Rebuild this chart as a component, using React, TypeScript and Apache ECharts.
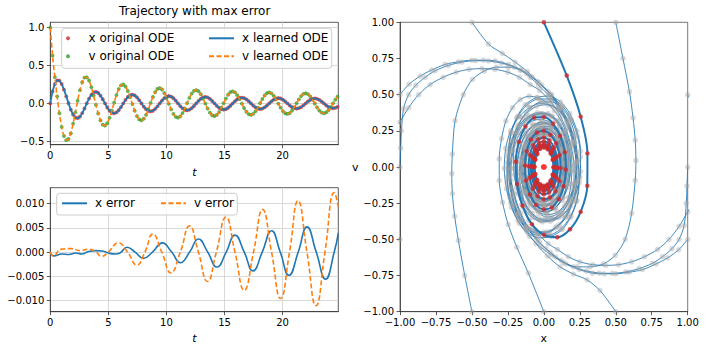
import React, { useEffect, useRef } from 'react';
import * as echarts from 'echarts';

// ---------- time series of the max-error trajectory (sampled) ----------
const tSamples = [
  0, 0.196, 0.393, 0.589, 0.785, 0.982, 1.178, 1.374, 1.571, 1.767, 1.963, 2.16, 2.356, 2.553, 2.749, 2.945,
  3.142, 3.338, 3.534, 3.731, 3.927, 4.123, 4.32, 4.516, 4.712, 4.909, 5.105, 5.301, 5.498, 5.694, 5.89, 6.087,
  6.283, 6.48, 6.676, 6.872, 7.069, 7.265, 7.461, 7.658, 7.854, 8.05, 8.247, 8.443, 8.639, 8.836, 9.032, 9.228,
  9.425, 9.621, 9.817, 10.014, 10.21, 10.407, 10.603, 10.799, 10.996, 11.192, 11.388, 11.585, 11.781, 11.977, 12.174, 12.37,
  12.566, 12.763, 12.959, 13.155, 13.352, 13.548, 13.744, 13.941, 14.137, 14.334, 14.53, 14.726, 14.923, 15.119, 15.315, 15.512,
  15.708, 15.904, 16.101, 16.297, 16.493, 16.69, 16.886, 17.082, 17.279, 17.475, 17.671, 17.868, 18.064, 18.261, 18.457, 18.653,
  18.85, 19.046, 19.242, 19.439, 19.635, 19.831, 20.028, 20.224, 20.42, 20.617, 20.813, 21.009, 21.206, 21.402, 21.598, 21.795,
  21.991, 22.188, 22.384, 22.58, 22.777, 22.973, 23.169, 23.366, 23.562, 23.758, 23.955, 24.151, 24.347, 24.544, 24.74,
];
const xOriginal = [
  0, 0.159, 0.256, 0.303, 0.302, 0.256, 0.182, 0.094, 0.002, -0.083, -0.148, -0.186, -0.195, -0.173, -0.128, -0.067,
  0.001, 0.064, 0.114, 0.146, 0.153, 0.138, 0.103, 0.055, 0, -0.054, -0.097, -0.124, -0.131, -0.119, -0.09, -0.048,
  0, 0.046, 0.085, 0.109, 0.116, 0.106, 0.08, 0.043, 0, -0.042, -0.076, -0.099, -0.106, -0.097, -0.073, -0.039,
  0, 0.038, 0.07, 0.091, 0.098, 0.089, 0.068, 0.036, 0, -0.036, -0.065, -0.085, -0.091, -0.083, -0.063, -0.034,
  0, 0.034, 0.061, 0.08, 0.086, 0.079, 0.06, 0.032, 0, -0.032, -0.058, -0.076, -0.081, -0.075, -0.057, -0.031,
  0, 0.03, 0.055, 0.072, 0.077, 0.071, 0.054, 0.029, 0, -0.029, -0.053, -0.069, -0.074, -0.068, -0.052, -0.028,
  0, 0.028, 0.051, 0.066, 0.071, 0.065, 0.05, 0.027, 0, -0.027, -0.049, -0.063, -0.068, -0.063, -0.048, -0.026,
  0, 0.026, 0.047, 0.061, 0.066, 0.061, 0.046, 0.025, 0, -0.025, -0.046, -0.059, -0.064, -0.059, -0.045,
];
const vOriginal = [
  1.0, 0.632, 0.348, 0.094, -0.13, -0.31, -0.43, -0.485, -0.47, -0.395, -0.268, -0.118, 0.036, 0.175, 0.28, 0.34,
  0.345, 0.3, 0.214, 0.103, -0.018, -0.133, -0.223, -0.28, -0.293, -0.262, -0.19, -0.094, 0.011, 0.11, 0.19, 0.238,
  0.25, 0.223, 0.164, 0.083, -0.008, -0.096, -0.167, -0.211, -0.223, -0.201, -0.15, -0.076, 0.006, 0.085, 0.15, 0.191,
  0.203, 0.184, 0.137, 0.071, -0.005, -0.078, -0.139, -0.177, -0.188, -0.171, -0.128, -0.067, 0.004, 0.073, 0.129, 0.166,
  0.176, 0.161, 0.121, 0.063, -0.003, -0.068, -0.122, -0.156, -0.167, -0.152, -0.114, -0.06, 0.003, 0.064, 0.115, 0.148,
  0.158, 0.145, 0.109, 0.057, -0.002, -0.061, -0.11, -0.141, -0.151, -0.138, -0.104, -0.055, 0.002, 0.058, 0.105, 0.135,
  0.145, 0.132, 0.1, 0.053, -0.002, -0.056, -0.101, -0.13, -0.139, -0.127, -0.096, -0.051, 0.002, 0.054, 0.097, 0.125,
  0.134, 0.123, 0.093, 0.049, -0.001, -0.052, -0.094, -0.121, -0.13, -0.119, -0.09, -0.048, 0.001, 0.05, 0.09,
];

// ---------- errors (learned - original) ----------
const xErrTimes = [0, 0.3, 1.0, 1.6, 2.2, 2.7, 3.3, 3.9, 4.5, 5.0, 5.6, 6.0, 6.6, 7.3, 8.0, 8.8, 9.65, 10.45, 11.2, 12.0, 12.75, 13.55, 14.35, 15.15, 15.9, 16.7, 17.45, 18.25, 19.05, 19.8, 20.55, 21.35, 22.1, 22.9, 23.7, 24.45, 24.8];
const xErrValues = [-0.0002, -0.0008, -0.0004, -0.0005, -0.0002, -0.0004, 0.0001, 0.0003, 0.0002, -0.0002, -0.0004, -0.0002, 0.001, 0.0, -0.0013, 0.0, 0.0019, 0.0, -0.0022, 0.0, 0.0027, 0.0, -0.0031, 0.0, 0.0035, 0.0, -0.0039, 0.0, 0.0044, 0.0, -0.0048, 0.0, 0.0052, 0.0, -0.0056, 0.0, 0.0039];
const vErrTimes = [0, 0.25, 0.95, 1.8, 2.6, 3.3, 3.9, 4.4, 5.0, 5.86, 6.65, 7.45, 8.15, 8.83, 9.6, 10.38, 11.2, 11.98, 12.75, 13.53, 14.3, 15.12, 15.9, 16.7, 17.5, 18.28, 19.05, 19.83, 20.6, 21.33, 22.1, 22.88, 23.65, 24.46, 24.8];
const vErrValues = [0.0, -0.0008, 0.0006, 0.0007, 0.0003, 0.0006, 0.0001, -0.0009, 0.0, 0.0019, 0.0, -0.0027, 0.0, 0.0037, 0.0, -0.0043, 0.0, 0.0054, 0.0, -0.0061, 0.0, 0.0072, 0.0, -0.0079, 0.0, 0.0088, 0.0, -0.0096, 0.0, 0.0106, 0.0, -0.0111, 0.0, 0.0123, 0.0094];

// ---------- phase portrait: other trajectories [x, v] ----------
const trajFromTopLeft = [[-0.5,1.0],[-0.385,0.85],[-0.288,0.785],[-0.2,0.725],[-0.115,0.66],[-0.035,0.585],[0.045,0.5],[0.115,0.4],[0.17,0.29],[0.21,0.17],[0.23,0.04],[0.23,-0.09],[0.21,-0.21],[0.17,-0.32],[0.11,-0.4],[0.04,-0.45],[-0.04,-0.46],[-0.11,-0.43],[-0.17,-0.36],[-0.21,-0.26],[-0.23,-0.14],[-0.235,-0.01],[-0.22,0.11],[-0.19,0.22],[-0.14,0.3],[-0.08,0.35],[-0.01,0.37],[0.06,0.35],[0.11,0.29],[0.15,0.2],[0.17,0.1],[0.175,-0.01],[0.16,-0.12],[0.13,-0.21],[0.08,-0.28],[0.02,-0.31],[-0.04,-0.3],[-0.09,-0.25],[-0.13,-0.17],[-0.15,-0.07],[-0.15,0.03],[-0.13,0.14],[-0.085,0.22],[-0.02,0.27],[0.045,0.265],[0.1,0.21],[0.135,0.13],[0.145,0.03],[0.135,-0.07],[0.1,-0.16],[0.05,-0.22],[-0.01,-0.245],[-0.07,-0.22],[-0.11,-0.16],[-0.13,-0.07],[-0.128,0.03],[-0.105,0.12],[-0.06,0.19],[0.0,0.215]];
const trajFromTopRight = [[0.5,1.0],[0.55,0.75],[0.595,0.52],[0.62,0.34],[0.635,0.185],[0.64,0.045],[0.635,-0.092],[0.61,-0.32],[0.565,-0.5],[0.496,-0.61],[0.414,-0.67],[0.32,-0.69],[0.23,-0.69],[0.136,-0.66],[0.056,-0.61],[-0.02,-0.555],[-0.1,-0.48],[-0.17,-0.39],[-0.225,-0.28],[-0.26,-0.15],[-0.275,-0.01],[-0.265,0.13],[-0.23,0.25],[-0.17,0.35],[-0.1,0.41],[-0.02,0.44],[0.06,0.42],[0.13,0.36],[0.18,0.27],[0.21,0.15],[0.225,0.02],[0.215,-0.11],[0.18,-0.22],[0.13,-0.31],[0.06,-0.36],[-0.01,-0.38],[-0.08,-0.35],[-0.14,-0.28],[-0.18,-0.18],[-0.2,-0.06],[-0.195,0.06],[-0.17,0.17],[-0.12,0.25],[-0.06,0.29],[0.0,0.3],[0.06,0.28],[0.11,0.22],[0.145,0.13],[0.16,0.03],[0.15,-0.08],[0.115,-0.18],[0.06,-0.245],[-0.005,-0.265],[-0.065,-0.24],[-0.115,-0.18],[-0.145,-0.09],[-0.15,0.01],[-0.13,0.11],[-0.09,0.19],[-0.03,0.235],[0.03,0.235],[0.085,0.19],[0.12,0.12]];
const trajFromBottomLeft = [[-0.5,-1.0],[-0.55,-0.75],[-0.594,-0.507],[-0.62,-0.34],[-0.636,-0.184],[-0.64,-0.045],[-0.636,0.09],[-0.617,0.32],[-0.56,0.5],[-0.496,0.605],[-0.413,0.664],[-0.33,0.69],[-0.246,0.69],[-0.165,0.67],[-0.095,0.62],[-0.037,0.565],[0.03,0.5],[0.1,0.41],[0.16,0.3],[0.2,0.17],[0.225,0.03],[0.225,-0.11],[0.2,-0.24],[0.15,-0.35],[0.08,-0.42],[0.0,-0.45],[-0.08,-0.43],[-0.15,-0.37],[-0.2,-0.27],[-0.235,-0.14],[-0.245,0.0],[-0.23,0.13],[-0.19,0.24],[-0.13,0.32],[-0.06,0.36],[0.02,0.36],[0.08,0.32],[0.13,0.24],[0.16,0.14],[0.17,0.03],[0.155,-0.08],[0.12,-0.18],[0.07,-0.24],[0.01,-0.27],[-0.05,-0.26],[-0.1,-0.2],[-0.135,-0.11],[-0.145,-0.01],[-0.13,0.09],[-0.09,0.18],[-0.03,0.23],[0.03,0.235],[0.085,0.2],[0.125,0.12],[0.14,0.02],[0.13,-0.08],[0.095,-0.16],[0.04,-0.21],[-0.02,-0.22],[-0.075,-0.18],[-0.11,-0.11]];
const trajFromBottomCenter = [[0,-1.0],[-0.108,-0.733],[-0.188,-0.554],[-0.248,-0.397],[-0.287,-0.245],[-0.31,-0.093],[-0.31,0.057],[-0.294,0.196],[-0.264,0.318],[-0.218,0.41],[-0.164,0.466],[-0.102,0.489],[-0.044,0.48],[0.014,0.45],[0.072,0.39],[0.114,0.33],[0.149,0.253],[0.177,0.166],[0.193,0.069],[0.195,-0.023],[0.188,-0.12],[0.172,-0.208],[0.142,-0.273],[0.095,-0.323],[0.054,-0.342],[0.014,-0.346],[-0.025,-0.323],[-0.07,-0.28],[-0.11,-0.21],[-0.135,-0.12],[-0.148,-0.03],[-0.15,0.06],[-0.14,0.14],[-0.115,0.21],[-0.08,0.26],[-0.04,0.29],[0.01,0.3],[0.06,0.28],[0.1,0.23],[0.128,0.15],[0.138,0.05],[0.13,-0.05],[0.1,-0.14],[0.055,-0.21],[0.0,-0.24],[-0.055,-0.225],[-0.1,-0.17],[-0.125,-0.09],[-0.13,0.0],[-0.115,0.09],[-0.08,0.16],[-0.03,0.2],[0.02,0.21]];
const trajFromBottomRight = [[0.5,-1.0],[0.39,-0.853],[0.3,-0.78],[0.206,-0.74],[0.113,-0.69],[0.025,-0.615],[-0.055,-0.53],[-0.125,-0.43],[-0.18,-0.32],[-0.22,-0.2],[-0.24,-0.07],[-0.24,0.06],[-0.22,0.18],[-0.18,0.29],[-0.12,0.37],[-0.05,0.42],[0.03,0.43],[0.1,0.4],[0.16,0.33],[0.2,0.23],[0.22,0.11],[0.225,-0.02],[0.21,-0.14],[0.17,-0.25],[0.12,-0.32],[0.05,-0.36],[-0.02,-0.36],[-0.08,-0.32],[-0.13,-0.25],[-0.16,-0.15],[-0.17,-0.04],[-0.16,0.07],[-0.13,0.17],[-0.08,0.24],[-0.02,0.28],[0.04,0.28],[0.09,0.24],[0.13,0.17],[0.15,0.08],[0.155,-0.02],[0.14,-0.12],[0.1,-0.2],[0.045,-0.25],[-0.015,-0.26],[-0.07,-0.23],[-0.11,-0.16],[-0.135,-0.07],[-0.135,0.03],[-0.115,0.12],[-0.07,0.19],[-0.015,0.225],[0.04,0.22],[0.085,0.18],[0.115,0.11],[0.125,0.02],[0.115,-0.07]];
const trajFromLeftUpper = [[-1,0.5],[-0.937,0.572],[-0.86,0.628],[-0.78,0.67],[-0.686,0.709],[-0.594,0.727],[-0.5,0.738],[-0.42,0.738],[-0.339,0.734],[-0.246,0.709],[-0.153,0.67],[-0.083,0.623],[-0.014,0.565],[0.055,0.5],[0.12,0.41],[0.175,0.3],[0.215,0.17],[0.24,0.03],[0.245,-0.11],[0.225,-0.24],[0.18,-0.35],[0.115,-0.43],[0.035,-0.47],[-0.05,-0.47],[-0.13,-0.42],[-0.19,-0.33],[-0.235,-0.21],[-0.255,-0.07],[-0.25,0.07],[-0.22,0.19],[-0.17,0.29],[-0.1,0.35],[-0.02,0.37],[0.05,0.35],[0.11,0.29],[0.155,0.2],[0.18,0.09],[0.185,-0.03],[0.165,-0.14],[0.125,-0.23],[0.07,-0.29],[0.01,-0.31],[-0.05,-0.29],[-0.1,-0.23],[-0.14,-0.15],[-0.16,-0.05],[-0.155,0.06],[-0.125,0.16],[-0.075,0.23],[-0.015,0.265],[0.045,0.255],[0.095,0.2],[0.13,0.12],[0.14,0.02],[0.13,-0.08],[0.095,-0.16],[0.045,-0.215],[-0.01,-0.23],[-0.065,-0.2],[-0.1,-0.14],[-0.12,-0.05]];
const trajFromLeftMid = [[-1,0],[-0.995,0.13],[-0.99,0.25],[-0.975,0.404],[-0.94,0.5],[-0.89,0.565],[-0.825,0.62],[-0.756,0.665],[-0.663,0.702],[-0.57,0.725],[-0.475,0.735],[-0.385,0.733],[-0.295,0.718],[-0.205,0.69],[-0.12,0.645],[-0.045,0.59],[0.03,0.52],[0.1,0.43],[0.16,0.32],[0.205,0.19],[0.235,0.05],[0.245,-0.09],[0.23,-0.23],[0.19,-0.34],[0.13,-0.43],[0.05,-0.48],[-0.035,-0.49],[-0.115,-0.45],[-0.18,-0.37],[-0.23,-0.25],[-0.255,-0.11],[-0.255,0.03],[-0.23,0.16],[-0.185,0.27],[-0.12,0.34],[-0.045,0.375],[0.03,0.37],[0.095,0.32],[0.145,0.24],[0.175,0.13],[0.185,0.01],[0.17,-0.11],[0.135,-0.21],[0.08,-0.28],[0.02,-0.31],[-0.04,-0.3],[-0.095,-0.25],[-0.135,-0.17],[-0.155,-0.07],[-0.15,0.04],[-0.125,0.14],[-0.08,0.22],[-0.02,0.26],[0.04,0.255],[0.095,0.2],[0.13,0.12],[0.145,0.02],[0.135,-0.08],[0.1,-0.165],[0.05,-0.215],[-0.01,-0.23],[-0.06,-0.2],[-0.1,-0.13]];
const trajFromLeftLower = [[-1,-0.5],[-1.07,-0.35],[-1.11,-0.15],[-1.1,0.05],[-1.06,0.2],[-1.0,0.31],[-0.94,0.41],[-0.87,0.5],[-0.79,0.57],[-0.7,0.62],[-0.61,0.655],[-0.52,0.675],[-0.43,0.68],[-0.34,0.675],[-0.25,0.655],[-0.17,0.62],[-0.095,0.57],[-0.03,0.53],[0.04,0.46],[0.105,0.37],[0.155,0.26],[0.19,0.14],[0.21,0.01],[0.21,-0.12],[0.19,-0.24],[0.15,-0.34],[0.09,-0.41],[0.02,-0.45],[-0.055,-0.45],[-0.125,-0.41],[-0.18,-0.33],[-0.215,-0.22],[-0.23,-0.09],[-0.225,0.04],[-0.2,0.16],[-0.155,0.25],[-0.095,0.31],[-0.025,0.33],[0.04,0.31],[0.095,0.26],[0.135,0.18],[0.155,0.08],[0.16,-0.03],[0.145,-0.13],[0.11,-0.21],[0.055,-0.26],[-0.005,-0.27],[-0.065,-0.24],[-0.11,-0.175],[-0.135,-0.085],[-0.14,0.015],[-0.12,0.11],[-0.08,0.185],[-0.025,0.225],[0.035,0.225],[0.085,0.185],[0.115,0.115],[0.13,0.025],[0.12,-0.065]];
const trajFromRightUpper = [[1,0.5],[1.07,0.35],[1.11,0.15],[1.1,-0.05],[1.06,-0.2],[1.0,-0.31],[0.94,-0.41],[0.87,-0.5],[0.79,-0.57],[0.7,-0.62],[0.61,-0.655],[0.52,-0.675],[0.43,-0.68],[0.34,-0.675],[0.25,-0.655],[0.17,-0.62],[0.095,-0.57],[0.03,-0.53],[-0.04,-0.46],[-0.105,-0.37],[-0.155,-0.26],[-0.19,-0.14],[-0.21,-0.01],[-0.21,0.12],[-0.19,0.24],[-0.15,0.34],[-0.09,0.41],[-0.02,0.45],[0.055,0.45],[0.125,0.41],[0.18,0.33],[0.215,0.22],[0.23,0.09],[0.225,-0.04],[0.2,-0.16],[0.155,-0.25],[0.095,-0.31],[0.025,-0.33],[-0.04,-0.31],[-0.095,-0.26],[-0.135,-0.18],[-0.155,-0.08],[-0.16,0.03],[-0.145,0.13],[-0.11,0.21],[-0.055,0.26],[0.005,0.27],[0.065,0.24],[0.11,0.175],[0.135,0.085],[0.14,-0.015],[0.12,-0.11],[0.08,-0.185],[0.025,-0.225],[-0.035,-0.225],[-0.085,-0.185],[-0.115,-0.115],[-0.13,-0.025],[-0.12,0.065]];
const trajFromRightMid = [[1,0],[0.995,-0.13],[0.99,-0.25],[0.975,-0.404],[0.94,-0.5],[0.89,-0.565],[0.825,-0.62],[0.756,-0.665],[0.663,-0.702],[0.57,-0.725],[0.475,-0.735],[0.385,-0.733],[0.295,-0.718],[0.205,-0.69],[0.12,-0.645],[0.045,-0.59],[-0.03,-0.52],[-0.1,-0.43],[-0.16,-0.32],[-0.205,-0.19],[-0.235,-0.05],[-0.245,0.09],[-0.23,0.23],[-0.19,0.34],[-0.13,0.43],[-0.05,0.48],[0.035,0.49],[0.115,0.45],[0.18,0.37],[0.23,0.25],[0.255,0.11],[0.255,-0.03],[0.23,-0.16],[0.185,-0.27],[0.12,-0.34],[0.045,-0.375],[-0.03,-0.37],[-0.095,-0.32],[-0.145,-0.24],[-0.175,-0.13],[-0.185,-0.01],[-0.17,0.11],[-0.135,0.21],[-0.08,0.28],[-0.02,0.31],[0.04,0.3],[0.095,0.25],[0.135,0.17],[0.155,0.07],[0.15,-0.04],[0.125,-0.14],[0.08,-0.22],[0.02,-0.26],[-0.04,-0.255],[-0.095,-0.2],[-0.13,-0.12],[-0.145,-0.02],[-0.135,0.08],[-0.1,0.165],[-0.05,0.215],[0.01,0.23],[0.06,0.2],[0.1,0.13]];
const trajFromRightLower = [[1,-0.5],[0.937,-0.572],[0.86,-0.628],[0.78,-0.67],[0.686,-0.709],[0.594,-0.727],[0.5,-0.738],[0.42,-0.738],[0.339,-0.734],[0.246,-0.709],[0.153,-0.67],[0.083,-0.623],[0.014,-0.565],[-0.055,-0.5],[-0.12,-0.41],[-0.175,-0.3],[-0.215,-0.17],[-0.24,-0.03],[-0.245,0.11],[-0.225,0.24],[-0.18,0.35],[-0.115,0.43],[-0.035,0.47],[0.05,0.47],[0.13,0.42],[0.19,0.33],[0.235,0.21],[0.255,0.07],[0.25,-0.07],[0.22,-0.19],[0.17,-0.29],[0.1,-0.35],[0.02,-0.37],[-0.05,-0.35],[-0.11,-0.29],[-0.155,-0.2],[-0.18,-0.09],[-0.185,0.03],[-0.165,0.14],[-0.125,0.23],[-0.07,0.29],[-0.01,0.31],[0.05,0.29],[0.1,0.23],[0.14,0.15],[0.16,0.05],[0.155,-0.06],[0.125,-0.16],[0.075,-0.23],[0.015,-0.265],[-0.045,-0.255],[-0.095,-0.2],[-0.13,-0.12],[-0.14,-0.02],[-0.13,0.08],[-0.095,0.16],[-0.045,0.215],[0.01,0.23],[0.065,0.2],[0.1,0.14],[0.12,0.05]];
const fixedPoint = [[0, 0]];

// ---------- tick values ----------
const timeTicks = [0, 5, 10, 15, 20];
const trajTicks = [-0.5, 0, 0.5, 1.0];
const errTicks = [-0.01, -0.005, 0, 0.005, 0.01];
const phaseTicks = [-1, -0.75, -0.5, -0.25, 0, 0.25, 0.5, 0.75, 1];

const C0 = '#1f77b4';
const C1 = '#ff7f0e';
const C2 = '#2ca02c';
const C3 = '#d62728';
const FONT = 'DejaVu Sans';

const pair = (a: number[], b: number[]) => a.map((v, i) => [v, b[i]]);
const fmt = (v: number, d: number) => {
  if (Math.abs(v) < 1e-9) v = 0;
  return v.toFixed(d).replace('-', '\u2212');
};
const onStep = (v: number, step: number) => Math.abs(v / step - Math.round(v / step)) < 1e-6;

function makeAxis(gridIndex: number, cfg: any) {
  return {
    gridIndex,
    type: 'value',
    min: cfg.min,
    max: cfg.max,
    splitNumber: cfg.splitNumber,
    interval: cfg.interval,
    axisLine: { show: true, onZero: false, lineStyle: { color: '#333', width: 0.8 } },
    axisTick: { show: true, inside: false, length: 3.5, customValues: cfg.ticks, lineStyle: { color: '#333', width: 0.8 } },
    axisLabel: {
      customValues: cfg.ticks,
      color: '#000', fontSize: 10, fontFamily: FONT, margin: 6,
      formatter: (v: number) => (onStep(v, cfg.step) ? fmt(v, cfg.decimals) : ''),
    },
    splitLine: { show: !!cfg.grid, lineStyle: { color: '#cfcfcf', width: 0.8 } },
    name: cfg.name,
    nameLocation: 'middle',
    nameGap: cfg.nameGap,
    nameRotate: cfg.nameRotate,
    nameTextStyle: { color: '#000', fontSize: 11, fontFamily: FONT, fontStyle: cfg.italic ? 'italic' : 'normal' },
  };
}

const trajStyle = (data: number[][]) => ({
  type: 'line', xAxisIndex: 2, yAxisIndex: 2, data, smooth: 0.3,
  symbol: 'circle', symbolSize: 5.5, showSymbol: true,
  itemStyle: { color: 'rgba(165,165,165,0.42)' },
  lineStyle: { color: C0, width: 1, opacity: 0.85 },
  z: 2, silent: true,
});

export default function App() {
  const ref = useRef<HTMLDivElement>(null);
  useEffect(() => {
    if (!ref.current) return;
    const chart = echarts.init(ref.current, null, { renderer: 'svg' });
    const legendText = { color: '#000', fontSize: 12, fontFamily: FONT, lineHeight: 14, padding: [0, 0, 0, 3] };
    const hideSym = { opacity: 0 };
    chart.setOption({
      animation: false,
      backgroundColor: '#fff',
      textStyle: { fontFamily: FONT },
      title: {
        text: 'Trajectory with max error', left: 119, top: 5, padding: 0,
        textStyle: { fontSize: 12, fontWeight: 'normal', color: '#000', fontFamily: FONT },
      },
      grid: [
        { left: 50.3, top: 22.3, width: 288, height: 122.4, show: true, borderColor: '#333', borderWidth: 0.8 },
        { left: 50.3, top: 187.7, width: 288, height: 124, show: true, borderColor: '#333', borderWidth: 0.8 },
        { left: 400, top: 22.3, width: 287.7, height: 289.4, show: true, borderColor: '#555', borderWidth: 0.8 },
      ],
      xAxis: [
        makeAxis(0, { min: 0, max: 24.8, splitNumber: 5, ticks: timeTicks, step: 5, decimals: 0, grid: true, name: 't', nameGap: 22, italic: true }),
        makeAxis(1, { min: 0, max: 24.8, splitNumber: 5, ticks: timeTicks, step: 5, decimals: 0, grid: true, name: 't', nameGap: 21, italic: true }),
        makeAxis(2, { min: -1, max: 1, interval: 0.25, ticks: phaseTicks, step: 0.25, decimals: 2, grid: false, name: 'x', nameGap: 19 }),
      ],
      yAxis: [
        makeAxis(0, { min: -0.545, max: 1.071, splitNumber: 3, ticks: trajTicks, step: 0.5, decimals: 1, grid: true }),
        makeAxis(1, { min: -0.01233, max: 0.0133, splitNumber: 5, ticks: errTicks, step: 0.005, decimals: 3, grid: true }),
        makeAxis(2, { min: -1, max: 1, interval: 0.25, ticks: phaseTicks, step: 0.25, decimals: 2, grid: false, name: 'v', nameGap: 13, nameRotate: 0 }),
      ],
      legend: [
        {
          left: 66, top: 31.3, orient: 'vertical', padding: 0, itemWidth: 25, itemHeight: 4, itemGap: 4, z: 11,
          textStyle: legendText, selectedMode: false,
          data: [{ name: 'x original ODE', icon: 'circle' }, { name: 'v original ODE', icon: 'circle' }],
        },
        {
          left: 208, top: 31.3, orient: 'vertical', padding: 0, itemWidth: 25, itemHeight: 4, itemGap: 4, z: 11,
          textStyle: legendText, selectedMode: false,
          data: [{ name: 'x learned ODE', itemStyle: hideSym }, { name: 'v learned ODE', itemStyle: hideSym }],
        },
        {
          left: 61, top: 196.3, orient: 'horizontal', padding: 0, itemWidth: 25, itemHeight: 4, itemGap: 25, z: 11,
          textStyle: legendText, selectedMode: false,
          data: [{ name: 'x error', itemStyle: hideSym }, { name: 'v error', itemStyle: hideSym }],
        },
      ],
      graphic: [
        { type: 'rect', z: 10, shape: { x: 61.7, y: 28.3, width: 270, height: 40, r: 3 }, style: { fill: 'rgba(255,255,255,0.8)', stroke: '#cccccc', lineWidth: 1 } },
        { type: 'rect', z: 10, shape: { x: 56.7, y: 193.3, width: 180.6, height: 21.7, r: 3 }, style: { fill: 'rgba(255,255,255,0.8)', stroke: '#cccccc', lineWidth: 1 } },
      ],
      series: [
        { name: 'x original ODE', type: 'scatter', xAxisIndex: 0, yAxisIndex: 0, data: pair(tSamples, xOriginal), symbolSize: 3.8, itemStyle: { color: C3 }, z: 2 },
        { name: 'v original ODE', type: 'scatter', xAxisIndex: 0, yAxisIndex: 0, data: pair(tSamples, vOriginal), symbolSize: 3.8, itemStyle: { color: C2 }, z: 2 },
        { name: 'x learned ODE', type: 'line', xAxisIndex: 0, yAxisIndex: 0, data: pair(tSamples, xOriginal), symbol: 'none', smooth: 0.3, itemStyle: { color: C0 }, lineStyle: { color: C0, width: 1.8 }, z: 3 },
        { name: 'v learned ODE', type: 'line', xAxisIndex: 0, yAxisIndex: 0, data: pair(tSamples, vOriginal), symbol: 'none', smooth: 0.3, itemStyle: { color: C1 }, lineStyle: { color: C1, width: 1.6, type: [5, 2.5] }, z: 3 },

        { name: 'x error', type: 'line', xAxisIndex: 1, yAxisIndex: 1, data: pair(xErrTimes, xErrValues), symbol: 'none', smooth: 0.5, itemStyle: { color: C0 }, lineStyle: { color: C0, width: 1.6 } },
        { name: 'v error', type: 'line', xAxisIndex: 1, yAxisIndex: 1, data: pair(vErrTimes, vErrValues), symbol: 'none', smooth: 0.5, itemStyle: { color: C1 }, lineStyle: { color: C1, width: 1.6, type: [5, 2.5] } },

        trajStyle(trajFromTopLeft),
        trajStyle(trajFromTopRight),
        trajStyle(trajFromBottomLeft),
        trajStyle(trajFromBottomCenter),
        trajStyle(trajFromBottomRight),
        trajStyle(trajFromLeftUpper),
        trajStyle(trajFromLeftMid),
        trajStyle(trajFromLeftLower),
        trajStyle(trajFromRightUpper),
        trajStyle(trajFromRightMid),
        trajStyle(trajFromRightLower),
        { type: 'line', xAxisIndex: 2, yAxisIndex: 2, data: pair(xOriginal, vOriginal), symbol: 'none', smooth: 0.3, lineStyle: { color: C0, width: 2 }, z: 3, silent: true },
        { type: 'scatter', xAxisIndex: 2, yAxisIndex: 2, data: pair(xOriginal, vOriginal), symbolSize: 4.5, itemStyle: { color: C3 }, z: 4, silent: true },
        { type: 'scatter', xAxisIndex: 2, yAxisIndex: 2, data: fixedPoint, symbolSize: 6, itemStyle: { color: '#ff0000' }, z: 5, silent: true },
      ],
    });
    return () => chart.dispose();
  }, []);
  return <div ref={ref} style={{ position: 'fixed', left: 0, top: 0, width: 706, height: 349 }} />;
}
